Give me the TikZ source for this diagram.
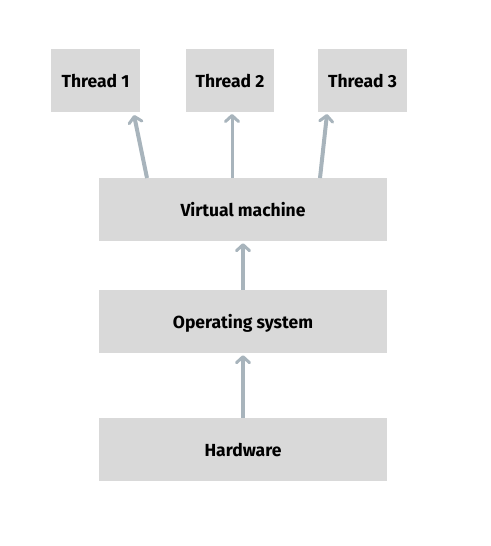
\documentclass[tikz,border=0pt]{standalone}
\usepackage{fontspec}
\setmainfont{Fira Sans}[Ligatures=NoCommon]
\usetikzlibrary{arrows.meta}
\definecolor{boxgray}{HTML}{D9D9D9}
\definecolor{arrowgray}{HTML}{A8B4BC}
\begin{document}
\begin{tikzpicture}[x=1pt,y=-1pt,
  blk/.style={fill=boxgray,draw=none,inner sep=0pt,text height=14pt,text depth=0pt,font=\fontsize{17.5}{20}\selectfont\bfseries,text=black},
  conn/.style={draw=arrowgray,line width=4pt,-{Straight Barb[round,length=6pt,width=13pt,line width=3pt]}}]
\useasboundingbox (0,0) rectangle (490,546);
\node[blk,minimum width=89pt,minimum height=63pt] (t1) at (95.5,80.5) {Thread 1};
\node[blk,minimum width=88pt,minimum height=63pt] (t2) at (230,80.5) {Thread 2};
\node[blk,minimum width=89pt,minimum height=63pt] (t3) at (362.5,80.5) {Thread 3};
\node[blk,minimum width=288pt,minimum height=63pt] (vm) at (243,209.5) {Virtual machine};
\node[blk,minimum width=288pt,minimum height=63pt] (os) at (243,321.5) {Operating system};
\node[blk,minimum width=288pt,minimum height=63pt] (hw) at (243,449.5) {Hardware};
\coordinate (a1) at (147,178);
\coordinate (a2) at (232,178);
\coordinate (a3) at (320,178);
\draw[conn] (a1) -- (134,115);
\draw[conn,line width=3pt] (a2) -- (232,114);
\draw[conn] (a3) -- (327,114);
\draw[conn] (os.north -| 243,0) -- ([yshift=-2pt]vm.south -| 243,0);
\draw[conn] (hw.north -| 243,0) -- ([yshift=-2pt]os.south -| 243,0);
\end{tikzpicture}
\end{document}
